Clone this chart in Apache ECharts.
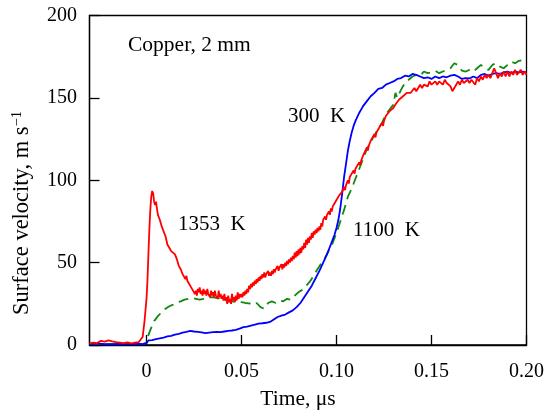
<!DOCTYPE html>
<html>
<head>
<meta charset="utf-8">
<script src="https://cdn.jsdelivr.net/npm/echarts@6/dist/echarts.min.js"></script>
<style>html,body{margin:0;padding:0;background:#fff;}#c{width:547px;height:414px;}</style>
</head>
<body>
<div id="c"></div>
<script>
// Tick values
var xTicks = [0, 0.05, 0.10, 0.15, 0.20];
var xTickLabels = ['0', '0.05', '0.10', '0.15', '0.20'];
var yTicks = [0, 50, 100, 150, 200];

// 1353 K (red) [time µs, velocity m/s]
var red1353 = [
[-0.030,1.0],[-0.028,1.5],[-0.026,1.2],[-0.024,2.5],[-0.022,2.0],[-0.020,2.8],[-0.018,2.2],[-0.016,1.8],[-0.014,1.5],[-0.012,1.2],[-0.010,1.6],[-0.008,1.0],[-0.006,1.4],[-0.004,1.8],[-0.003,3.0],[-0.002,5],[-0.001,15],
[0.000,28],[0.0005,39],[0.001,55],[0.0015,70],[0.002,82],[0.0025,90],[0.003,93.5],[0.0035,92],[0.004,87],[0.0045,85],[0.005,87],[0.0055,83],[0.006,79],[0.0065,80],[0.007,76],[0.0075,74],[0.008,72],[0.009,69],[0.0095,70],
[0.010,66],[0.011,61],[0.012,59],[0.013,57],[0.014,58],[0.015,55],[0.016,52],[0.017,48],[0.018,46],[0.019,43],
[0.020,43],[0.0205,40],[0.021,42],[0.0215,39],[0.022,40],[0.0225,37],[0.023,38],[0.0235,35],[0.024,36],[0.0245,33],[0.025,34],[0.0255,31],[0.026,33],[0.0265,30],[0.027,34],[0.0275,32],[0.028,35],[0.0285,31],[0.029,33],[0.0295,30],
[0.030,34],[0.0305,31],[0.031,33],[0.0315,30],[0.032,34],[0.0325,31],[0.033,32],[0.0335,29],[0.034,33],[0.0345,30],[0.035,32],[0.0355,29],[0.036,33],[0.0365,30],[0.037,31],[0.0375,28],[0.038,33],[0.0385,29],[0.039,31],[0.0395,28],
[0.040,30],[0.0405,27],[0.041,31],[0.0415,27],[0.042,29],[0.0425,25],[0.043,30],[0.0435,26],[0.044,28],[0.0445,25],[0.045,31],[0.0455,27],[0.046,29],[0.0465,26],[0.047,30],[0.0475,27],[0.048,32],[0.0485,28],[0.049,31],[0.0495,29],
[0.050,31],[0.0505,29],[0.051,32],[0.0515,30],[0.052,33],[0.0525,31],[0.053,34],[0.0535,32],[0.054,36],[0.0545,34],[0.055,37],[0.0555,35],[0.056,38],[0.0565,36],[0.057,39],[0.0575,37],[0.058,40],[0.0585,38],[0.059,41],[0.0595,39],
[0.060,42],[0.0605,40],[0.061,43],[0.0615,41],[0.062,44],[0.0625,41],[0.063,43],[0.0635,42],[0.064,45],[0.0645,42],[0.065,44],[0.0655,42],[0.066,45],[0.0665,43],[0.067,46],[0.0675,44],[0.068,46],[0.0685,45],[0.069,48],[0.0695,45],
[0.070,47],[0.0705,46],[0.071,49],[0.0715,46],[0.072,49],[0.0725,47],[0.073,50],[0.0735,48],[0.074,51],[0.0745,49],[0.075,52],[0.0755,50],[0.076,53],[0.0765,51],[0.077,54],[0.0775,52],[0.078,56],[0.0785,53],[0.079,57],[0.0795,54],
[0.080,58],[0.0805,55],[0.081,59],[0.0815,56],[0.082,60],[0.0825,58],[0.083,62],[0.0835,59],[0.084,64],[0.0845,61],[0.085,65],[0.0855,62],[0.086,66],[0.0865,64],[0.087,68],[0.0875,65],[0.088,69],[0.0885,67],[0.089,70],[0.0895,68],
[0.090,71],[0.0905,69],[0.091,72],[0.0915,70],[0.092,74],[0.0925,72],[0.093,76],[0.0935,75],[0.094,78],[0.0945,76],[0.095,79],[0.0955,78],[0.096,81],[0.0965,79],[0.097,83],[0.0975,81],[0.098,84],[0.0985,83],[0.099,86],[0.0995,85],
[0.100,88],[0.101,89],[0.1015,91],[0.102,92],[0.103,93],[0.104,96],[0.1045,94],[0.105,97],[0.106,100],[0.1065,98],[0.107,102],[0.108,103],[0.109,106],[0.1095,104],
[0.110,107],[0.111,108],[0.112,111],[0.1125,109],[0.113,112],[0.114,115],[0.115,116],[0.116,120],[0.1165,118],[0.117,121],[0.118,124],[0.119,125],[0.120,128],[0.1205,126],[0.121,129],[0.122,131],[0.123,133],[0.124,135],[0.1245,133],[0.125,136],[0.126,139],[0.127,139],[0.128,142],[0.129,142],
[0.130,144],[0.131,146],[0.132,147],[0.133,149],[0.134,149],[0.135,151],[0.136,150],[0.137,153],[0.138,152],[0.139,153],[0.140,154],[0.141,156],[0.142,154],[0.143,156],[0.144,158],[0.145,156],[0.146,158],[0.147,158],[0.148,157],[0.149,160],
[0.150,158],[0.151,157],[0.152,160],[0.153,158],[0.154,160],[0.155,159],[0.156,158],[0.157,161],[0.158,159],[0.159,160],[0.160,157],[0.161,154],[0.162,155],[0.163,158],[0.164,160],[0.165,158],[0.166,161],[0.167,159],[0.168,158],[0.169,161],
[0.170,159],[0.171,161],[0.172,160],[0.173,158],[0.174,162],[0.175,160],[0.176,163],[0.177,161],[0.178,164],[0.179,162],[0.180,164],[0.181,162],[0.182,165],[0.183,168],[0.184,165],[0.185,162],[0.186,165],[0.187,163],[0.188,166],[0.189,163],
[0.190,166],[0.191,163],[0.192,166],[0.193,164],[0.194,167],[0.195,164],[0.196,163],[0.197,167],[0.198,164],[0.199,166],[0.200,164]
];

// 300 K (blue)
var blue300 = [
[-0.030,0.5],[-0.025,0.8],[-0.020,0.4],[-0.015,0.6],[-0.010,0.5],[-0.005,0.7],[-0.002,0.5],[0.000,1.0],[0.001,2.8],[0.003,3.0],[0.005,3.5],[0.007,4.0],[0.009,4.5],[0.011,5.2],[0.013,5.5],[0.015,6.3],[0.017,6.8],[0.019,7.5],
[0.021,8.0],[0.023,8.6],[0.025,8.2],[0.027,8.0],[0.029,7.6],[0.031,7.2],[0.033,7.5],[0.035,7.8],[0.037,8.0],[0.039,7.8],[0.041,8.2],[0.043,8.6],[0.045,8.8],[0.047,9.2],[0.049,10.0],[0.051,10.8],[0.053,11.2],[0.055,11.8],
[0.057,12.3],[0.059,13.0],[0.061,13.2],[0.063,13.5],[0.065,14.0],[0.067,15.5],[0.069,17.0],[0.071,17.8],[0.073,18.5],[0.075,19.8],[0.077,21],[0.079,23],[0.081,25.5],[0.083,29],[0.085,32.5],[0.087,36],[0.089,40.5],
[0.091,45],[0.093,50],[0.095,55],[0.097,61],[0.099,67],[0.100,71],[0.101,76],[0.102,83],[0.103,92],[0.104,102],[0.105,110],[0.106,118],[0.107,124],[0.108,129],[0.109,133],[0.110,136],[0.112,141],[0.114,145],
[0.116,148],[0.118,151],[0.120,153],[0.122,155.5],[0.124,156],[0.126,158],[0.128,159],[0.130,160],[0.132,161.5],[0.134,162],[0.136,163.5],[0.138,163],[0.140,164.5],[0.142,164],[0.144,163],[0.146,162],[0.148,162.5],
[0.150,161.5],[0.152,163],[0.154,162],[0.156,163],[0.158,162.5],[0.160,163.5],[0.162,164],[0.164,163],[0.166,161.5],[0.168,162],[0.170,161.8],[0.172,163],[0.174,162],[0.176,164],[0.178,164.5],[0.180,163.5],
[0.182,164.5],[0.184,165],[0.186,164.5],[0.188,165.5],[0.190,166],[0.192,165],[0.194,166],[0.196,165.5],[0.198,166],[0.200,165.5]
];

// 1100 K (green, dashed)
var green1100 = [
[-0.030,0.5],[-0.020,0.6],[-0.010,0.5],[-0.002,0.5],[0.000,1.5],[0.001,6],[0.002,9],[0.003,12],[0.004,14.5],[0.006,17.5],[0.008,20],[0.010,22],[0.012,23.5],[0.014,24.5],[0.016,25.8],[0.018,26.5],[0.020,27.5],
[0.022,28],[0.024,28.5],[0.026,28],[0.028,27.5],[0.030,28],[0.032,28.5],[0.034,29],[0.036,28.8],[0.038,28.3],[0.040,27.8],[0.042,27],[0.044,26.5],[0.046,26.3],[0.048,27],[0.050,26],[0.052,25.5],[0.054,25.3],
[0.056,24.3],[0.058,25.5],[0.060,23],[0.062,22],[0.064,25.5],[0.066,26.5],[0.068,25.5],[0.070,27],[0.072,26.5],[0.074,28],[0.076,27.5],[0.078,30],[0.080,32],[0.082,33.5],[0.084,36],[0.086,38.5],[0.088,42],
[0.090,46],[0.092,49.5],[0.094,53],[0.096,57.5],[0.098,62],[0.100,68],[0.102,75],[0.104,82],[0.106,90],[0.108,95],[0.110,101],[0.112,107],[0.114,113],[0.116,119],[0.118,123],[0.120,127.5],[0.122,131],
[0.124,135],[0.126,140],[0.128,143],[0.130,146],[0.131,153],[0.132,150],[0.134,155],[0.136,159],[0.138,161],[0.140,163],[0.142,164],[0.144,163.5],[0.146,166],[0.148,165],[0.150,165.5],[0.152,166.5],[0.154,165],
[0.156,166],[0.158,167],[0.160,168],[0.162,171],[0.164,170],[0.166,166.5],[0.168,166],[0.170,167],[0.172,166],[0.174,168],[0.176,170],[0.178,168],[0.180,167],[0.182,170],[0.184,171],[0.186,169],[0.188,168],
[0.190,170],[0.192,172],[0.194,171],[0.196,172.5],[0.198,173],[0.200,173]
];

var FONT = '"Liberation Serif", "Times New Roman", serif';
var chart = echarts.init(document.getElementById('c'), null, {renderer: 'canvas'});
chart.setOption({
  animation: false,
  backgroundColor: '#fff',
  grid: {left: 89.5, right: 19.5, top: 15.5, bottom: 69, show: true, borderColor: '#000', borderWidth: 1.3, backgroundColor: 'transparent'},
  xAxis: {
    type: 'value', min: -0.03, max: 0.20,
    axisLine: {show: true, onZero: false, lineStyle: {color: '#000', width: 1.3}},
    axisTick: {show: true, inside: true, length: 10, customValues: xTicks, lineStyle: {color: '#000', width: 1.3}},
    axisLabel: {show: true, margin: 17, fontFamily: FONT, fontSize: 20, color: '#000',
      customValues: xTicks,
      formatter: function (v) { var i = xTicks.findIndex(function (t) { return Math.abs(t - v) < 1e-9; }); return i >= 0 ? xTickLabels[i] : ''; }},
    splitLine: {show: false}
  },
  yAxis: {
    type: 'value', min: 0, max: 200, interval: 50,
    axisLine: {show: true, onZero: false, lineStyle: {color: '#000', width: 1.3}},
    axisTick: {show: true, inside: true, length: 10, lineStyle: {color: '#000', width: 1.3}},
    axisLabel: {show: true, margin: 12.5, fontFamily: FONT, fontSize: 20, color: '#000'},
    splitLine: {show: false}
  },
  series: [
    {type: 'line', data: green1100, showSymbol: false, symbol: 'none', z: 2,
      lineStyle: {color: '#108a10', width: 1.8, type: [10, 6]}},
    {type: 'line', data: blue300, showSymbol: false, symbol: 'none', z: 3,
      lineStyle: {color: '#0000ff', width: 1.8}},
    {type: 'line', data: red1353, showSymbol: false, symbol: 'none', z: 4,
      lineStyle: {color: '#ff0000', width: 1.8}}
  ],
  graphic: [
    {type: 'text', x: 298, y: 399, style: {text: 'Time, μs', fontFamily: FONT, fontSize: 21.5, fill: '#000', align: 'center', verticalAlign: 'middle'}},
    {type: 'text', x: 22, y: 213, rotation: Math.PI / 2, style: {
      text: '{a|Surface velocity, m s}{s|−1}', align: 'center', verticalAlign: 'middle',
      rich: {
        a: {fontFamily: FONT, fontSize: 22.5, fill: '#000', lineHeight: 25},
        s: {fontFamily: FONT, fontSize: 14.5, fill: '#000', verticalAlign: 'top', lineHeight: 14}
      }}},
    {type: 'text', left: 128, top: 34, style: {text: 'Copper, 2 mm', fontFamily: FONT, fontSize: 21.5, fill: '#000'}},
    {type: 'text', left: 288, top: 106, style: {text: '300  K', fontFamily: FONT, fontSize: 21, fill: '#000'}},
    {type: 'text', left: 178, top: 214, style: {text: '1353  K', fontFamily: FONT, fontSize: 21, fill: '#000'}},
    {type: 'text', left: 353, top: 220, style: {text: '1100  K', fontFamily: FONT, fontSize: 21, fill: '#000'}}
  ]
});
</script>
</body>
</html>
